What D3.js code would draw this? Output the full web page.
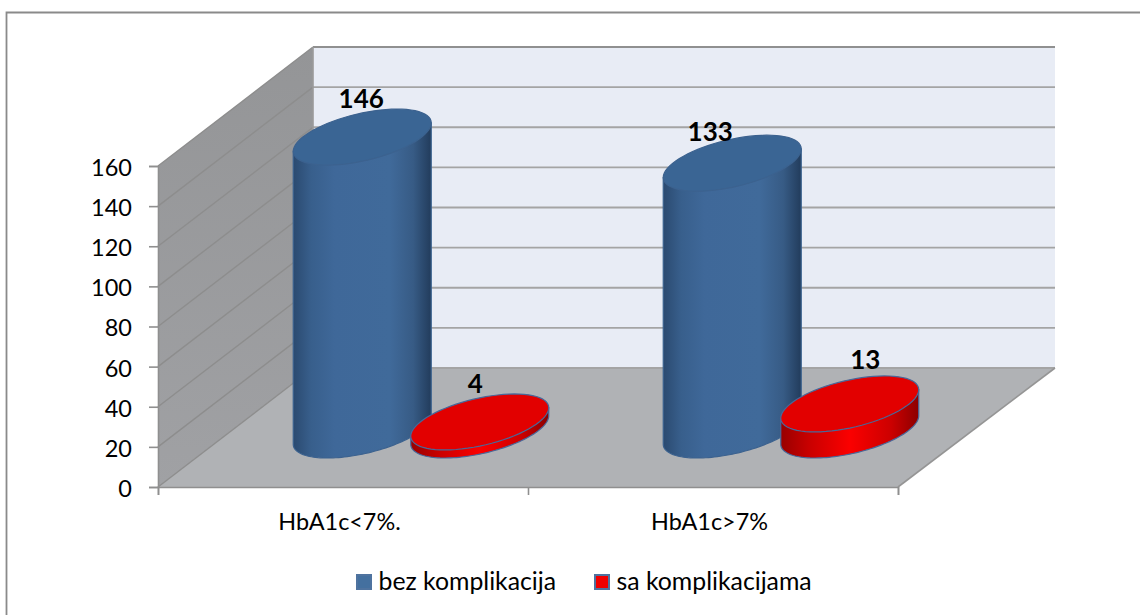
<!DOCTYPE html>
<html><head><meta charset="utf-8">
<script src="https://cdn.jsdelivr.net/npm/d3@7"></script>
<style>html,body{margin:0;background:#fff}svg{display:block}text{font-family:Lato,"Open Sans",sans-serif;fill:#000}</style>
</head><body><svg id="c" width="1140" height="615"></svg>
<script>
const categories = ["HbA1c<7%.", "HbA1c>7%"];
const seriesNames = ["bez komplikacija", "sa komplikacijama"];
const bezKomplikacija = [146, 133];
const saKomplikacijama = [4, 13];
const yTicks = [0, 20, 40, 60, 80, 100, 120, 140, 160];

const svg = d3.select("#c");
const y = d3.scaleLinear().domain([0, 160]).range([487, 166]);
const xCat = d3.scaleBand().domain(categories).range([158, 898]);
const xSeries = d3.scalePoint().domain(seriesNames).range([130, 247.5]);
const depth = {dx: 155, dy: -119};
const barDepth = 0.479;
const rx = 69, ry = 28, phi = 30.5 * Math.PI / 180;

const defs = svg.append("defs");
function grad(id, stops) {
  const g = defs.append("linearGradient").attr("id", id).attr("x1", 0).attr("x2", 1).attr("y1", 0).attr("y2", 0);
  stops.forEach(s => g.append("stop").attr("offset", s[0]).attr("stop-color", s[1]));
}
grad("blueG", [[0, "#2b4a70"], [0.13, "#385f8c"], [0.3, "#3f6899"], [0.7, "#406a9a"], [0.87, "#375b85"], [1, "#223c5c"]]);
grad("redG", [[0, "#980000"], [0.2, "#c80000"], [0.5, "#fb0000"], [0.8, "#cc0000"], [1, "#8c0000"]]);
const wallG = defs.append("linearGradient").attr("id", "wallG").attr("x1", 0).attr("x2", 0).attr("y1", 0).attr("y2", 1);
wallG.append("stop").attr("offset", 0).attr("stop-color", "#949597");
wallG.append("stop").attr("offset", 1).attr("stop-color", "#a0a1a4");

// outer frame: only top and left edges are visible
svg.append("path").attr("fill", "none").attr("stroke", "#8a8a8a").attr("stroke-width", 1.8)
  .attr("d", "M6.5,615V12.5H1140");

const x0 = xCat.range()[0], x1 = xCat.range()[1];
const yb = y(0), yt = y(160);
const poly = pts => "M" + pts.map(p => p.join(",")).join("L") + "Z";

// back wall, side wall, floor
svg.append("path").attr("d", poly([[x0 + depth.dx, yb + depth.dy], [x0 + depth.dx, yt + depth.dy], [x1 + depth.dx + 2, yt + depth.dy], [x1 + depth.dx + 2, yb + depth.dy]])).attr("fill", "#e8ecf5");
svg.append("path").attr("d", poly([[x0, yb], [x0, yt], [x0 + depth.dx, yt + depth.dy], [x0 + depth.dx, yb + depth.dy]])).attr("fill", "url(#wallG)");
svg.append("path").attr("d", poly([[x0, yb], [x0 + depth.dx, yb + depth.dy], [x1 + depth.dx + 2, yb + depth.dy], [x1, yb]])).attr("fill", "#b0b2b5");

// gridlines on walls
yTicks.forEach(t => {
  const py = y(t);
  svg.append("path").attr("fill", "none").attr("stroke", "#8d8d8d").attr("stroke-width", 1.4)
    .attr("d", `M${x0},${py}L${x0 + depth.dx},${py + depth.dy}`);
  svg.append("path").attr("fill", "none").attr("stroke", t === 160 ? "#909090" : "#a4a4a4").attr("stroke-width", t === 160 ? 2 : 1.8)
    .attr("d", `M${x0 + depth.dx},${py + depth.dy}H${x1 + depth.dx + 2}`);
});
svg.append("path").attr("fill", "none").attr("stroke", "#9a9a9a").attr("stroke-width", 1.6)
  .attr("d", `M${x0 + depth.dx},${yt + depth.dy}V${yb + depth.dy}`);
svg.append("path").attr("fill", "none").attr("stroke", "#959595").attr("stroke-width", 1.6)
  .attr("d", `M${x1},${yb}L${x1 + depth.dx + 2},${yb + depth.dy}`);

// axes
const yAxis = svg.append("g").attr("transform", `translate(${x0},0)`)
  .call(d3.axisLeft(y).tickValues(yTicks).tickSize(9).tickPadding(17));
const xEdge = d3.scaleLinear().domain([0, categories.length]).range([x0, x1]);
const xAxis = svg.append("g").attr("transform", `translate(0,${yb})`)
  .call(d3.axisBottom(xEdge).tickValues(d3.range(categories.length + 1)).tickSize(8).tickFormat(""));
const xLabels = svg.append("g").attr("transform", `translate(-3.5,${yb})`)
  .call(d3.axisBottom(xCat).tickSize(0).tickPadding(26));
[yAxis, xAxis].forEach(a => {
  a.selectAll("path.domain").attr("stroke", "#8f8f8f").attr("stroke-width", 1.6);
  a.selectAll(".tick line").attr("stroke", "#8f8f8f").attr("stroke-width", 1.6);
});
xLabels.select("path.domain").remove();
yAxis.selectAll("text").attr("font-size", 23.5).attr("font-family", "Lato").attr("fill", "#000").attr("dy", "0.4em");
xLabels.selectAll("text").attr("font-size", 23.4).attr("font-family", "Lato").attr("fill", "#000");

// cylinders
function ell(cx, cy, a, b) {
  return d3.range(a, b + 0.001, (b - a) / 72).map(deg => {
    const t = deg * Math.PI / 180;
    return [cx + rx * Math.cos(t), cy - ry * Math.sin(t + phi)];
  });
}
const line = d3.line();
function cylinder(cx, value, fillSide, fillTop, stroke) {
  const base = y(0) + barDepth * depth.dy;
  const top = base - (y(0) - y(value));
  const lower = ell(cx, base, 180, 360);
  const g = svg.append("g");
  const side = lower.concat([[cx + rx, top - ry * Math.sin(phi)]], [[cx - rx, top + ry * Math.sin(phi)]]);
  g.append("path").attr("d", line(side) + "Z").attr("fill", fillSide).attr("stroke", stroke).attr("stroke-width", 1.2);
  g.append("path").attr("d", line(ell(cx, top, 0, 360)) + "Z").attr("fill", fillTop).attr("stroke", stroke).attr("stroke-width", 1.2);
  return top;
}
const barX = (cat, s) => xCat(cat) + xSeries(s) + barDepth * depth.dx;
const labels = [];
// label nudges as placed by hand in the original chart
const nudges = [[-1, -29], [-4.5, -29], [-22, -22], [15.5, -35]];
categories.forEach((cat, i) => {
  [[seriesNames[0], bezKomplikacija[i], "url(#blueG)", "#3a6594", "#3c628f"],
   [seriesNames[1], saKomplikacijama[i], "url(#redG)", "#e20000", "#48689a"]].forEach(d => {
    const cx = barX(cat, d[0]);
    const top = cylinder(cx, d[1], d[2], d[3], d[4]);
    labels.push([cx, top, d[1]]);
  });
});
labels.forEach((l, i) => {
  svg.append("text").attr("x", l[0] + nudges[i][0]).attr("y", l[1] + nudges[i][1]).attr("text-anchor", "middle")
    .attr("font-size", 26).attr("font-weight", 700).text(l[2]);
});

// legend
const legendX = [356, 594];
const legendColor = ["#44709f", "#f00000"];
seriesNames.forEach((s, i) => {
  svg.append("rect").attr("x", legendX[i] + 1).attr("y", 575).attr("width", 14).attr("height", 14)
    .attr("fill", legendColor[i]).attr("stroke", "#4f739f").attr("stroke-width", 2);
  svg.append("text").attr("x", legendX[i] + 22.5).attr("y", 590).attr("font-size", 24.8).text(s);
});
</script></body></html>
